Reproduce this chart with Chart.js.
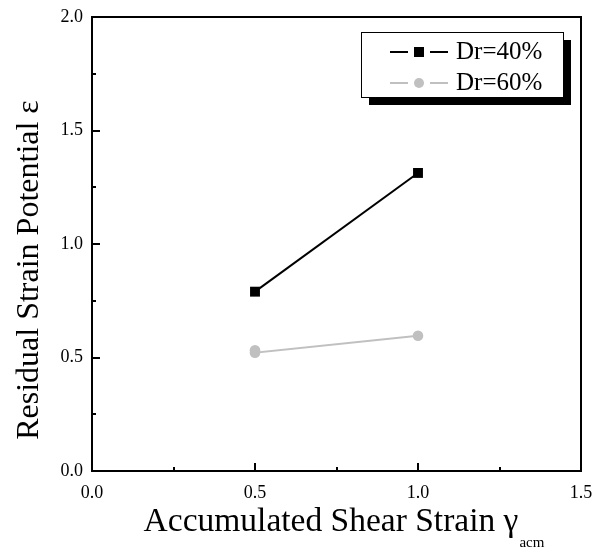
<!DOCTYPE html>
<html>
<head>
<meta charset="utf-8">
<script src="https://cdn.jsdelivr.net/npm/chart.js@4.4.0/dist/chart.umd.min.js"></script>
<style>
  html, body { margin: 0; padding: 0; background: #fff; }
  #wrap { width: 594px; height: 551px; }
</style>
</head>
<body>
<div id="wrap"><canvas id="chart" width="594" height="551"></canvas></div>
<script>
// data
const dr40X = [0.5, 1.0];
const dr40Y = [0.79, 1.313];
const dr60X = [0.5, 0.5, 1.0];
const dr60Y = [0.532, 0.521, 0.596];
const seriesNames = ['Dr=40%', 'Dr=60%'];
const xTicks = [0, 0.5, 1.0, 1.5];
const yTicks = [0, 0.5, 1.0, 1.5, 2.0];

const FONT = "'Liberation Serif', 'Times New Roman', serif";
const GREY = '#c0c0c0';

function pts(xs, ys) {
  return xs.map((x, i) => ({ x: x, y: ys[i] }));
}

// frame, inward ticks, axis titles and the legend box
const decor = {
  id: 'decor',
  afterDatasetsDraw(chart) {
    const { ctx, chartArea: a, scales } = chart;
    const xs = scales.x, ys = scales.y;
    ctx.save();
    ctx.strokeStyle = '#000';
    ctx.lineWidth = 2;
    ctx.strokeRect(a.left, a.top, a.right - a.left, a.bottom - a.top);

    // ticks, major every 0.5, minor every 0.25
    ctx.beginPath();
    for (let v = 0; v <= 1.5001; v += 0.25) {
      const px = Math.round(xs.getPixelForValue(v));
      const len = Math.abs(v / 0.5 - Math.round(v / 0.5)) < 1e-6 ? 8 : 4;
      ctx.moveTo(px, a.bottom);
      ctx.lineTo(px, a.bottom - len);
    }
    for (let v = 0; v <= 2.0001; v += 0.25) {
      const py = Math.round(ys.getPixelForValue(v));
      const len = Math.abs(v / 0.5 - Math.round(v / 0.5)) < 1e-6 ? 8 : 4;
      ctx.moveTo(a.left, py);
      ctx.lineTo(a.left + len, py);
    }
    ctx.stroke();

    // axis titles
    ctx.fillStyle = '#000';
    ctx.textBaseline = 'alphabetic';
    const main = 'Accumulated Shear Strain \u03b3';
    ctx.font = '33.5px ' + FONT;
    const wMain = ctx.measureText(main).width;
    ctx.font = '15px ' + FONT;
    const wSub = ctx.measureText('acm').width;
    const x0 = (a.left + a.right) / 2 - (wMain + wSub) / 2 + 7;
    ctx.font = '33.5px ' + FONT;
    ctx.textAlign = 'left';
    ctx.fillText(main, x0, 531);
    ctx.font = '15px ' + FONT;
    ctx.fillText('acm', x0 + wMain + 1, 547);

    ctx.save();
    ctx.translate(30, 270);
    ctx.rotate(-Math.PI / 2);
    ctx.font = '32px ' + FONT;
    ctx.textAlign = 'center';
    ctx.textBaseline = 'middle';
    ctx.fillText('Residual Strain Potential \u03b5', 0, 0);
    ctx.restore();

    // legend
    const bx = 361, by = 32, bw = 202, bh = 65;
    ctx.fillStyle = '#000';
    ctx.fillRect(bx + 8, by + 8, bw, bh);
    ctx.fillStyle = '#fff';
    ctx.fillRect(bx, by, bw, bh);
    ctx.lineWidth = 1;
    ctx.strokeStyle = '#000';
    ctx.strokeRect(bx + 0.5, by + 0.5, bw, bh);

    chart.data.datasets.forEach((ds, i) => {
      const ly = i === 0 ? 52 : 83;
      ctx.strokeStyle = ds.borderColor;
      ctx.lineWidth = 2;
      ctx.beginPath();
      ctx.moveTo(390, ly); ctx.lineTo(408, ly);
      ctx.moveTo(430, ly); ctx.lineTo(448, ly);
      ctx.stroke();
      ctx.fillStyle = ds.pointBackgroundColor;
      if (ds.pointStyle === 'rect') {
        ctx.fillRect(414, ly - 5, 10, 10);
      } else {
        ctx.beginPath();
        ctx.arc(419, ly, 5, 0, Math.PI * 2);
        ctx.fill();
      }
      ctx.fillStyle = '#000';
      ctx.font = '25px ' + FONT;
      ctx.textAlign = 'left';
      ctx.textBaseline = 'alphabetic';
      ctx.fillText(ds.label, 456, ly + 7);
    });
    ctx.restore();
  }
};

new Chart(document.getElementById('chart'), {
  type: 'line',
  data: {
    datasets: [
      {
        label: seriesNames[0],
        data: pts(dr40X, dr40Y),
        borderColor: '#000',
        backgroundColor: '#000',
        pointBackgroundColor: '#000',
        pointBorderColor: '#000',
        pointStyle: 'rect',
        pointRadius: 7,
        pointBorderWidth: 0,
        borderWidth: 2,
        tension: 0
      },
      {
        label: seriesNames[1],
        data: pts(dr60X, dr60Y),
        borderColor: GREY,
        backgroundColor: GREY,
        pointBackgroundColor: GREY,
        pointBorderColor: GREY,
        pointStyle: 'circle',
        pointRadius: 5.3,
        pointBorderWidth: 0,
        borderWidth: 2,
        tension: 0
      }
    ]
  },
  options: {
    responsive: false,
    animation: false,
    layout: { padding: 0 },
    plugins: { legend: { display: false }, tooltip: { enabled: false } },
    scales: {
      x: {
        type: 'linear',
        min: 0, max: 1.5,
        afterBuildTicks: (s) => { s.ticks = xTicks.map(v => ({ value: v })); },
        afterFit: (s) => { s.height = 80; s.paddingLeft = 0; s.paddingRight = 13; },
        grid: { display: false, drawTicks: false },
        border: { display: false },
        ticks: {
          padding: 11,
          color: '#000',
          font: { family: FONT, size: 18 },
          maxRotation: 0,
          callback: (v) => Number(v).toFixed(1)
        }
      },
      y: {
        type: 'linear',
        min: 0, max: 2,
        afterBuildTicks: (s) => { s.ticks = yTicks.map(v => ({ value: v })); },
        afterFit: (s) => { s.width = 92; s.paddingTop = 17; s.paddingBottom = 0; },
        grid: { display: false, drawTicks: false },
        border: { display: false },
        ticks: {
          padding: 9,
          color: '#000',
          font: { family: FONT, size: 18 },
          callback: (v) => Number(v).toFixed(1)
        }
      }
    }
  },
  plugins: [decor]
});
</script>
</body>
</html>
